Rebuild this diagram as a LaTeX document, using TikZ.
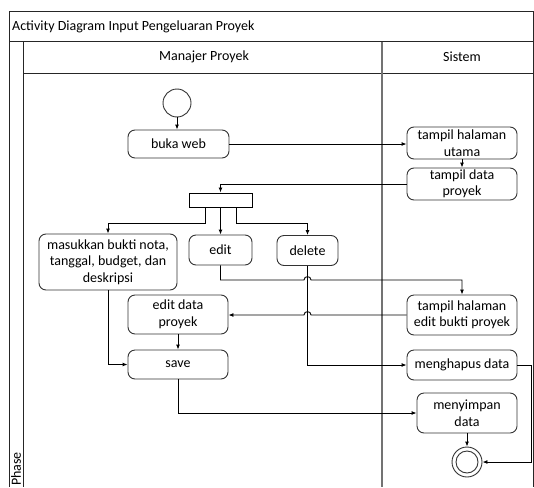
\documentclass[tikz,border=0pt]{standalone}
\usepackage{fontspec}
\setmainfont{Carlito}
\usetikzlibrary{arrows.meta}
\begin{document}
\begin{tikzpicture}[x=1pt,y=-1pt,
  every node/.style={font=\fontsize{14}{16.5}\selectfont, inner sep=0pt},
  act/.style={draw=black!80, line width=0.9pt, rounded corners=7pt, align=center},
  flow/.style={draw=black, line width=0.9pt, -{Latex[length=5pt,width=4pt]}},
  frame/.style={draw=black!85, line width=1pt},
  lane/.style={draw=black!55, line width=1.6pt}
]
\useasboundingbox[fill=white] (0,0) rectangle (534,487);
% frame
\draw[frame] (533,487) -- (533,12) -- (9,12) -- (9,487);
\draw[frame] (9,42) -- (533,42);
\draw[frame] (23,42) -- (23,487);
\draw[frame] (23,73) -- (533,73);
\draw[lane] (382,42) -- (382,487);
\node[anchor=west] (title) at (12,27) {Activity Diagram Input Pengeluaran Proyek};
\node (mp) at (204,57) {Manajer Proyek};
\node (sis) at (462,57) {Sistem};
\node[rotate=90, anchor=west] (phase) at (16,486) {Phase};
% nodes
\node[draw=black!80, line width=0.9pt, circle, minimum size=28pt] (start) at (177,103) {};
\node[act, minimum width=101pt, minimum height=28pt] (buka) at (178.5,144) {buka web};
\node[act, minimum width=110pt, minimum height=32pt] (thu) at (462,143) {tampil halaman\\utama};
\node[act, minimum width=110pt, minimum height=32pt] (tdp) at (462,184) {tampil data\\proyek};
\node[draw=black, line width=1pt, minimum width=63pt, minimum height=14pt] (fork) at (220.5,200) {};
\node[act, minimum width=138pt, minimum height=56pt] (mas) at (108,262) {masukkan bukti nota,\\tanggal, budget, dan\\deskripsi};
\node[act, minimum width=63pt, minimum height=30pt] (edit) at (220.5,250) {edit};
\node[act, minimum width=61pt, minimum height=30pt] (del) at (307.5,250.5) {delete};
\node[act, minimum width=100pt, minimum height=39pt] (edp) at (178,314.5) {edit data\\proyek};
\node[act, minimum width=110pt, minimum height=40pt] (the) at (462,315) {tampil halaman\\edit bukti proyek};
\node[act, minimum width=100pt, minimum height=29pt] (save) at (178,364.5) {save};
\node[act, minimum width=110pt, minimum height=30pt] (hapus) at (462,365) {menghapus data};
\node[act, minimum width=100pt, minimum height=40pt] (simpan) at (467,413) {menyimpan\\data};
\node[draw=black!80, line width=0.9pt, circle, minimum size=30pt] (end) at (467,462) {};
\node[draw=black!80, line width=0.9pt, circle, minimum size=22pt] (endin) at (467,462) {};
% connectors
\draw[flow] (start.south) -- (start.south |- buka.north);
\draw[flow] (buka.east) -- (buka.east -| thu.west);
\draw[flow] (thu.south) -- (tdp.north);
\draw[flow] (tdp.west) -| (fork.north);
\draw[flow] ([xshift=-15.5pt]fork.south) -- ++(0,16) -| (mas.north);
\draw[flow] (fork.south) -- (edit.north);
\draw[flow] ([xshift=15.5pt]fork.south) -- ++(0,16) -| (del.north);
\draw[flow] (edit.south) -- (220.5,280) -- (304,280) .. controls (304,275.5) and (311,275.5) .. (311,280) -- (462,280) -- (the.north);
\draw[flow] (the.west) -- (311,315) .. controls (311,310.5) and (304,310.5) .. (304,315) -- (edp.east |- the.west);
\draw[flow] (del.south) |- (hapus.west);
\draw[flow] (mas.south) |- (save.west);
\draw[flow] (edp.south) -- (save.north);
\draw[flow] (save.south) |- (simpan.west);
\draw[flow] (hapus.east) -- (531,365) |- (end.east);
\draw[flow] (simpan.south) -- (end.north);
\end{tikzpicture}
\end{document}
